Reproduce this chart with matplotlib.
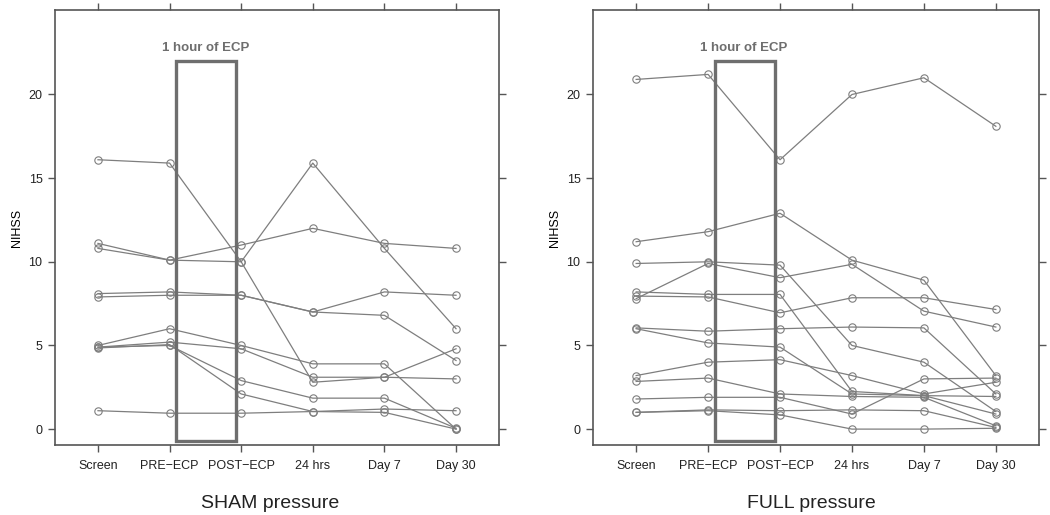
import numpy as np
import matplotlib.pyplot as plt

plt.rcParams.update({
    "font.family": ["Liberation Sans", "DejaVu Sans"],
    "font.size": 9,
})

timepoints = ["Screen", "PRE\u2212ECP", "POST\u2212ECP", "24 hrs", "Day 7", "Day 30"]

# NIHSS per patient, columns follow timepoints
sham = [
    [16.1, 15.9, 10.0, 2.8, 3.1, 4.8],
    [10.8, 10.1, 10.0, 15.9, 10.8, 6.0],
    [11.1, 10.1, 11.0, 12.0, 11.1, 10.8],
    [8.1, 8.2, 8.0, 7.0, 8.2, 8.0],
    [7.9, 8.0, 8.0, 7.0, 6.8, 4.1],
    [1.1, 0.95, 0.95, 1.05, 1.2, 1.1],
    [5.0, 6.0, 5.0, 3.9, 3.9, 0.0],
    [4.9, 5.2, 4.8, 3.1, 3.1, 3.0],
    [4.9, 5.0, 2.9, 1.85, 1.85, 0.05],
    [4.85, 5.05, 2.1, 1.05, 1.0, 0.0],
]

full = [
    [20.9, 21.2, 16.1, 20.0, 21.0, 18.1],
    [11.2, 11.8, 12.9, 10.1, 8.9, 3.2],
    [9.9, 10.0, 9.8, 5.0, 4.0, 1.05],
    [7.8, 9.9, 9.05, 9.85, 7.05, 6.1],
    [8.2, 8.05, 8.05, 2.25, 2.0, 1.95],
    [7.95, 7.9, 6.95, 7.85, 7.85, 7.15],
    [6.05, 5.85, 6.0, 6.1, 6.05, 2.1],
    [6.0, 5.15, 4.9, 2.1, 2.0, 0.9],
    [3.2, 4.0, 4.15, 3.2, 2.1, 2.8],
    [2.85, 3.05, 2.1, 1.95, 1.9, 0.2],
    [1.8, 1.9, 1.9, 0.9, 3.0, 3.05],
    [1.0, 1.15, 1.1, 1.15, 1.1, 0.1],
    [1.0, 1.1, 0.85, 0.0, 0.0, 0.05],
]

panel_titles = ["SHAM pressure", "FULL pressure"]
ecp_label = "1 hour of ECP"
y_ticks = [0, 5, 10, 15, 20]

line_col = "#7e7e7e"
frame_col = "#555555"

fig = plt.figure(figsize=(10.5, 5.15), dpi=100)
positions = [[55 / 1050, 1 - 445 / 515, 444 / 1050, 435 / 515],
             [593 / 1050, 1 - 445 / 515, 446 / 1050, 435 / 515]]
title_x = [270 / 1050, 811 / 1050]

x = np.arange(1, len(timepoints) + 1)

for pos, data, title, tx in zip(positions, [sham, full], panel_titles, title_x):
    ax = fig.add_axes(pos)
    for row in data:
        ax.plot(x, row, color=line_col, linewidth=0.9, marker='o', markersize=5.3,
                markerfacecolor='none', markeredgecolor=line_col, markeredgewidth=0.8)

    # ECP window box
    ax.add_patch(plt.Rectangle((2.09, -0.7), 0.84, 22.7, fill=False,
                               edgecolor='#6e6e6e', linewidth=2.4, zorder=5))
    ax.text(2.5, 22.8, ecp_label, ha='center', va='center', color='#6e6e6e',
            fontsize=9.5, fontweight='bold')

    ax.set_xlim(0.4, 6.6)
    ax.set_ylim(-0.95, 25.05)
    ax.set_xticks(x)
    ax.set_xticklabels(timepoints)
    ax.set_yticks(y_ticks)
    ax.set_ylabel("NIHSS", fontsize=9)
    ax.tick_params(axis='both', direction='out', length=5, width=1, color=frame_col,
                   top=True, right=True, labelsize=9, labelcolor='#222222')
    ax.tick_params(axis='x', pad=6)
    ax.tick_params(axis='y', pad=4)
    for sp in ax.spines.values():
        sp.set_color(frame_col)
        sp.set_linewidth(1.2)

    fig.text(tx, 1 - 503 / 515, title, ha='center', va='center', fontsize=14,
             color='#222222')

plt.savefig('out.png', dpi=100)
